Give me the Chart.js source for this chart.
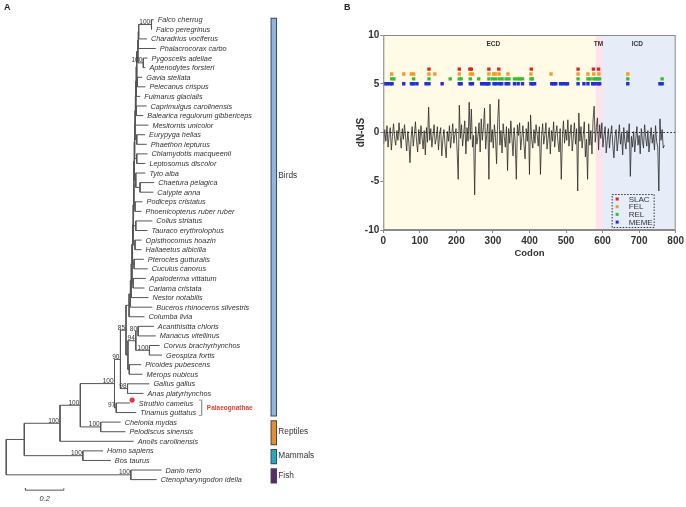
<!DOCTYPE html>
<html>
<head>
<meta charset="utf-8">
<script src="https://cdn.jsdelivr.net/npm/chart.js@4.4.0/dist/chart.umd.min.js"></script>
<style>
  body { margin: 0; background: #fff; }
  #treeChart { position: absolute; left: 0; top: 0; }
  #dndsChart { position: absolute; left: 330px; top: 0; }
</style>
</head>
<body>
<canvas id="treeChart" width="330" height="507"></canvas>
<canvas id="dndsChart" width="356" height="270"></canvas>
<script>
// ---------- Panel A: tree ----------
const tipNames = [
  'Falco cherrug', 'Falco peregrinus', 'Charadrius vociferus', 'Phalacrocorax carbo',
  'Pygoscelis adeliae', 'Aptenodytes forsteri', 'Gavia stellata', 'Pelecanus crispus',
  'Fulmarus glacialis', 'Caprimulgus carolinensis', 'Balearica regulorum gibbericeps',
  'Mesitornis unicolor', 'Eurypyga helias', 'Phaethon lepturus', 'Chlamydotis macqueenii',
  'Leptosomus discolor', 'Tyto alba', 'Chaetura pelagica', 'Calypte anna',
  'Podiceps cristatus', 'Phoenicopterus ruber ruber', 'Colius striatus',
  'Tauraco erythrolophus', 'Opisthocomus hoazin', 'Haliaeetus albicilla',
  'Pterocles gutturalis', 'Cuculus canorus', 'Apaloderma vittatum', 'Cariama cristata',
  'Nestor notabilis', 'Buceros rhinoceros silvestris', 'Columba livia',
  'Acanthisitta chloris', 'Manacus vitellinus', 'Corvus brachyrhynchos', 'Geospiza fortis',
  'Picoides pubescens', 'Merops nubicus', 'Gallus gallus', 'Anas platyrhynchos',
  'Struthio camelus', 'Tinamus guttatus', 'Chelonia mydas', 'Pelodiscus sinensis',
  'Anolis carolinensis', 'Homo sapiens', 'Bos taurus', 'Danio rerio',
  'Ctenopharyngodon idella'
];
// distance from root of each tip
const tipX = [
  0.769, 0.759, 0.733, 0.779, 0.736, 0.725, 0.709, 0.725, 0.698, 0.731,
  0.714, 0.741, 0.723, 0.732, 0.736, 0.725, 0.725, 0.771, 0.766, 0.710,
  0.705, 0.761, 0.736, 0.705, 0.705, 0.717, 0.737, 0.727, 0.720, 0.741,
  0.761, 0.720, 0.769, 0.779, 0.799, 0.812, 0.703, 0.710, 0.746, 0.715,
  0.644, 0.677, 0.596, 0.621, 0.664, 0.504, 0.545, 0.809, 0.784
];
// internal nodes: distance from root, children (number = tip, 'nK' = node K), bootstrap
const nodeX = [
  0.000, 0.094, 0.649, 0.280, 0.399, 0.386, 0.492, 0.564, 0.595, 0.573,
  0.632, 0.624, 0.634, 0.675, 0.687, 0.746, 0.641, 0.755, 0.714, 0.683,
  0.678, 0.680, 0.680, 0.697, 0.675, 0.671, 0.675, 0.671, 0.666, 0.661,
  0.690, 0.688, 0.686, 0.680, 0.677, 0.675, 0.673, 0.671, 0.669, 0.667,
  0.665, 0.663, 0.661, 0.658, 0.655, 0.651, 0.647, 0.640
];
const nodeKids = [
  ['n1', 'n2'], ['n3', 'n4'], [47, 48], ['n5', 44], [45, 46],
  ['n7', 'n6'], [42, 43], ['n8', 'n9'], ['n11', 'n10'], [40, 41],
  [38, 39], ['n47', 'n12'], ['n13', 'n16'], ['n14', 'n15'], [32, 33],
  [34, 35], [36, 37], [0, 1], [4, 5], [6, 7],
  [9, 10], [12, 13], [14, 15], [17, 18], [16, 'n23'],
  [19, 20], [21, 22], [23, 24], [25, 26], [27, 28],
  ['n17', 2], ['n30', 3], ['n31', 'n18'], ['n32', 'n19'], ['n33', 8],
  ['n34', 'n20'], ['n35', 11], ['n36', 'n21'], ['n37', 'n22'], ['n38', 'n24'],
  ['n39', 'n25'], ['n40', 'n26'], ['n41', 'n27'], ['n42', 'n28'], ['n43', 'n29'],
  ['n44', 29], ['n45', 30], ['n46', 31]
];
const nodeSupport = [
  '', '', '100', '100', '100', '100', '100', '100', '90', '97',
  '98', '85', '', '94', '80', '100', '', '100', '100'
];
const highlightTip = 40;
const groupNames = ['Birds', 'Reptiles', 'Mammals', 'Fish'];
const groupFirstTip = [0, 42, 45, 47];
const groupLastTip = [41, 44, 46, 48];
const cladeName = 'Palaeognathae';
const cladeTips = [40, 41];
const scaleBarLength = 0.2;

// ---------- Panel B: dN-dS ----------
const codonStart = 1, codonStep = 3;
const dnds = [
  -1.2, 0.3, -0.9, 0.7, -1.5, -0.2, 0.5, -1.8, -0.4, 0.9,
  -0.6, -1.3, 0.2, -0.8, 1.0, -0.3, -1.6, 0.4, -0.7, 0.8,
  -0.5, -1.9, 0.1, -1.1, -3.1, -0.6, 0.6, -1.4, -0.2, 1.1,
  -0.9, -2.0, 0.3, -1.2, 0.7, -0.5, -1.7, 0.2, -2.3, 0.5,
  -1.0, 2.6, -0.8, 0.4, -1.5, -0.3, 0.8, -1.2, -0.6, 0.6,
  -1.8, -0.2, 0.5, -2.4, -0.7, 0.3, -1.3, -2.6, 0.1, -0.9,
  0.7, -1.6, -0.4, 0.9, -1.1, -0.2, 0.4, -1.9, -4.8, 2.8,
  -0.6, 0.8, -1.4, -0.1, 1.2, -2.2, 0.5, -0.9, 3.1, -0.7,
  2.4, -1.5, -0.3, -6.4, 0.6, -1.2, -0.4, 1.0, -2.0, 1.4,
  -0.8, 0.5, 2.5, -1.7, -0.2, 0.9, -4.8, 2.9, -1.0, 0.3,
  -1.6, 0.8, -0.5, -3.2, 1.1, 3.4, -1.3, 0.2, -2.1, 0.9,
  -0.4, -1.5, 0.6, -3.9, 0.4, -1.1, 1.2, -0.6, -2.4, 0.5,
  -1.0, -4.8, 0.8, -0.3, 1.0, -1.8, -0.5, 0.7, -1.3, -2.7,
  0.4, -0.9, 1.1, -4.3, 1.8, -0.7, -1.6, 0.3, -1.1, 0.8,
  -0.2, -1.4, 0.6, -4.3, -0.5, 0.9, -1.2, -0.3, 1.0, -1.7,
  -0.6, 0.5, -2.2, 0.2, -0.9, 1.1, -1.5, -0.1, 0.7, -1.0,
  -2.0, 0.4, -4.8, -0.6, 1.2, -1.1, 0.3, -0.8, 1.3, -1.4,
  -0.2, 0.8, -1.9, -0.5, 1.0, -1.2, 0.4, -6.0, 2.0, -0.9,
  0.6, -1.6, -0.3, 1.1, -2.5, -0.7, -4.8, 0.9, -1.3, 0.2,
  -2.2, 1.3, 2.7, -1.0, 0.5, 1.5, -1.8, 0.8, -0.6, 1.0,
  -1.5, -0.3, 0.6, -2.1, -0.8, 0.4, -1.6, -0.2, 0.7, -1.3,
  -2.6, -0.5, 0.3, -1.9, -0.7, 0.8, -1.2, -0.1, -2.3, 0.5,
  -0.9, -1.7, 0.2, -1.0, 0.9, -4.5, -0.4, -1.5, 0.1, -2.0,
  -0.6, 0.6, -1.3, -0.3, -2.2, 0.4, -0.8, -1.6, 0.8, -0.5,
  -1.4, 0.2, -2.0, -0.7, 0.5, -1.1, -0.2, -1.8, 0.7, -0.9,
  -1.5, -6.0, 1.4, -0.8, 0.3, -1.6, -1.3
];
const slacSites = [125, 208, 237, 241, 289, 316, 405, 533, 575, 589];
const felSites = [23, 56, 77, 83, 125, 141, 208, 238, 244, 289, 302, 307, 317, 341, 404, 459, 533, 560, 576, 590, 669];
const relSites = [23, 29, 83, 125, 183, 208, 213, 238, 261, 289, 299, 307, 317, 325, 336, 344, 359, 367, 373, 381, 404, 408, 533, 560, 566, 576, 581, 587, 592, 669, 763];
const memeSites = [5, 11, 19, 24, 56, 77, 83, 92, 117, 125, 161, 208, 213, 238, 244, 269, 274, 281, 285, 289, 303, 309, 318, 324, 336, 343, 359, 369, 381, 404, 408, 414, 461, 466, 472, 485, 491, 499, 504, 533, 549, 560, 573, 578, 587, 592, 669, 757, 763];
const methodNames = ['SLAC', 'FEL', 'REL', 'MEME'];
const methodLevels = [6.5, 6, 5.5, 5];
const domainNames = ['ECD', 'TM', 'ICD'];
const domainBounds = [0, 581, 601, 800];
const codonTicks = [0, 100, 200, 300, 400, 500, 600, 700, 800];
const dndsTicks = [-10, -5, 0, 5, 10];

const FONT = '"Liberation Sans", Arial, sans-serif';

// tree layout: node y = middle of its children rows
const nodeCache = {};
function kidPos(k) {
  return typeof k === 'string' ? nodePos(+k.slice(1)) : { x: tipX[k], y: k };
}
function nodePos(n) {
  if (nodeCache[n]) return nodeCache[n];
  const a = kidPos(nodeKids[n][0]), b = kidPos(nodeKids[n][1]);
  return (nodeCache[n] = { x: nodeX[n], y: (a.y + b.y) / 2 });
}

const treeSets = nodeKids.map((kids, n) => {
  const a = kidPos(kids[0]), b = kidPos(kids[1]);
  return {
    data: [{ x: a.x, y: a.y }, { x: nodeX[n], y: a.y }, { x: nodeX[n], y: b.y }, { x: b.x, y: b.y }],
    showLine: true, borderColor: '#555', borderWidth: 1, pointRadius: 0
  };
});
const groupColors = ['#8fb5db', '#e58e2e', '#27a8c2', '#5b2b6c'];
const barX = 1.394;
// coloured fill first (drawn on top), dark outline after it
groupNames.forEach((g, i) => {
  treeSets.push({
    data: [{ x: barX, y: groupFirstTip[i] - 0.1 }, { x: barX, y: groupLastTip[i] + 0.3 }],
    showLine: true, borderColor: groupColors[i], borderWidth: 4.5, borderCapStyle: 'butt', pointRadius: 0
  });
});
groupNames.forEach((g, i) => {
  treeSets.push({
    data: [{ x: barX, y: groupFirstTip[i] - 0.2 }, { x: barX, y: groupLastTip[i] + 0.4 }],
    showLine: true, borderColor: '#3b4a5a', borderWidth: 6.5, borderCapStyle: 'butt', pointRadius: 0
  });
});
// palaeognath bracket
treeSets.push({
  data: [{ x: 1.003, y: cladeTips[0] - 0.3 }, { x: 1.018, y: cladeTips[0] - 0.3 },
         { x: 1.018, y: cladeTips[1] + 0.3 }, { x: 1.003, y: cladeTips[1] + 0.3 }],
  showLine: true, borderColor: '#999', borderWidth: 1, pointRadius: 0
});
// scale bar
const sbY = 49.1, sbX0 = 0.1;
treeSets.push({
  data: [{ x: sbX0, y: sbY - 0.2 }, { x: sbX0, y: sbY }, { x: sbX0 + scaleBarLength, y: sbY }, { x: sbX0 + scaleBarLength, y: sbY - 0.2 }],
  showLine: true, borderColor: '#555', borderWidth: 1, pointRadius: 0
});
// red marker
treeSets.push({
  data: [{ x: tipX[highlightTip] + 0.012, y: highlightTip - 0.3 }],
  pointRadius: 2.6, backgroundColor: '#e53935', borderWidth: 0
});

const treeText = {
  id: 'treeText',
  afterDatasetsDraw(chart) {
    const { ctx, scales: { x, y } } = chart;
    ctx.save();
    ctx.fillStyle = '#222';
    ctx.font = 'bold 9px ' + FONT;
    ctx.textBaseline = 'middle';
    ctx.fillText('A', 4, 8);
    ctx.fillStyle = '#333';
    ctx.font = 'italic 7.3px ' + FONT;
    tipNames.forEach((name, i) => {
      const off = i === highlightTip ? 9 : 4;
      ctx.fillText(name, x.getPixelForValue(tipX[i]) + off, y.getPixelForValue(i) + 0.5);
    });
    ctx.font = '6.5px ' + FONT;
    ctx.textAlign = 'right';
    ctx.textBaseline = 'bottom';
    nodeSupport.forEach((s, n) => {
      if (!s) return;
      const p = nodePos(n);
      ctx.fillText(s, x.getPixelForValue(p.x) - 1, y.getPixelForValue(p.y) + 1);
    });
    ctx.textAlign = 'left';
    ctx.textBaseline = 'middle';
    ctx.font = '8.3px ' + FONT;
    const labelRows = [16.3, null, null, null];
    groupNames.forEach((g, i) => {
      const row = labelRows[i] !== null ? labelRows[i] : (groupFirstTip[i] + groupLastTip[i]) / 2 + 0.05;
      ctx.fillText(g, x.getPixelForValue(barX) + 4.5, y.getPixelForValue(row));
    });
    ctx.fillStyle = '#d9443a';
    ctx.font = 'bold 6.5px ' + FONT;
    ctx.fillText(cladeName, x.getPixelForValue(1.045), y.getPixelForValue((cladeTips[0] + cladeTips[1]) / 2));
    ctx.fillStyle = '#333';
    ctx.font = 'italic 7.3px ' + FONT;
    ctx.textAlign = 'center';
    ctx.fillText(String(scaleBarLength), x.getPixelForValue(sbX0 + scaleBarLength / 2), y.getPixelForValue(sbY + 0.9));
    ctx.restore();
  }
};

new Chart(document.getElementById('treeChart'), {
  type: 'scatter',
  data: { datasets: treeSets },
  options: {
    responsive: false, animation: false, devicePixelRatio: 1,
    layout: { padding: 0 },
    plugins: { legend: { display: false }, tooltip: { enabled: false } },
    scales: {
      x: { type: 'linear', min: -0.0117, max: 1.666, display: false },
      y: { type: 'linear', min: -1.644, max: 50.44, reverse: true, display: false }
    }
  },
  plugins: [treeText]
});

// ---------- Panel B chart ----------
const methodColors = ['#e2231a', '#f29a2e', '#2fc22f', '#1f30d6'];
const methodSites = [slacSites, felSites, relSites, memeSites];
const domainColors = ['#fffbe6', '#fde3ec', '#e6edf8'];

const dndsSets = [{
  data: dnds.map((v, i) => ({ x: codonStart + i * codonStep, y: v })),
  showLine: true, borderColor: '#2a2a2a', borderWidth: 0.8, pointRadius: 0
}];
methodNames.forEach((m, i) => {
  dndsSets.push({
    label: m,
    data: methodSites[i].map(c => ({ x: c, y: methodLevels[i] })),
    pointStyle: 'rect', pointRadius: 2.4, backgroundColor: methodColors[i], borderWidth: 0
  });
});

const dndsDecor = {
  id: 'dndsDecor',
  beforeDatasetsDraw(chart) {
    const { ctx, chartArea: a, scales: { x, y } } = chart;
    ctx.save();
    domainNames.forEach((d, i) => {
      const x0 = x.getPixelForValue(domainBounds[i]), x1 = x.getPixelForValue(domainBounds[i + 1]);
      ctx.fillStyle = domainColors[i];
      ctx.fillRect(x0, a.top, x1 - x0, a.bottom - a.top);
    });
    ctx.fillStyle = '#333';
    ctx.font = 'bold 6.5px ' + FONT;
    ctx.textAlign = 'center';
    ctx.textBaseline = 'middle';
    const labelAt = [301, 589, 695];
    domainNames.forEach((d, i) => ctx.fillText(d, x.getPixelForValue(labelAt[i]), y.getPixelForValue(9.1)));
    ctx.restore();
  },
  afterDatasetsDraw(chart) {
    const { ctx, chartArea: a, scales: { y } } = chart;
    ctx.save();
    const y0 = y.getPixelForValue(0);
    ctx.strokeStyle = '#111';
    ctx.lineWidth = 1;
    ctx.setLineDash([1.5, 2]);
    ctx.beginPath();
    ctx.moveTo(a.left, y0);
    ctx.lineTo(a.right, y0);
    ctx.stroke();
    ctx.setLineDash([]);
    ctx.strokeStyle = '#8a8a8a';
    ctx.strokeRect(a.left + 0.5, a.top + 0.5, a.right - a.left - 1, a.bottom - a.top - 1);
    // legend box
    const lx = a.right - 64, ly = a.bottom - 36, lw = 42, lh = 33;
    ctx.strokeStyle = '#333';
    ctx.setLineDash([1.5, 1.5]);
    ctx.strokeRect(lx + 0.5, ly + 0.5, lw, lh);
    ctx.setLineDash([]);
    ctx.font = '8px ' + FONT;
    ctx.textBaseline = 'middle';
    methodNames.forEach((m, i) => {
      const ry = ly + 5 + i * 7.7;
      ctx.fillStyle = methodColors[i];
      ctx.fillRect(lx + 4, ry - 1.5, 3, 3);
      ctx.fillStyle = '#333';
      ctx.fillText(m, lx + 17, ry + 0.5);
    });
    ctx.fillStyle = '#222';
    ctx.font = 'bold 9px ' + FONT;
    ctx.fillText('B', 14, 8);
    ctx.restore();
  }
};

new Chart(document.getElementById('dndsChart'), {
  type: 'scatter',
  data: { datasets: dndsSets },
  options: {
    responsive: false, animation: false, devicePixelRatio: 1,
    layout: { padding: { top: 35, right: 7.7, left: 0, bottom: 0 } },
    plugins: { legend: { display: false }, tooltip: { enabled: false } },
    scales: {
      x: {
        type: 'linear', min: 0, max: 800,
        afterBuildTicks: s => { s.ticks = codonTicks.map(v => ({ value: v })); },
        afterFit: s => { s.height = 40; },
        grid: { drawOnChartArea: false, tickLength: 3, color: '#8a8a8a' },
        border: { color: '#8a8a8a' },
        ticks: { color: '#333', padding: 2, maxRotation: 0, font: { family: FONT, size: 10, weight: 'bold' } },
        title: { display: true, text: 'Codon', color: '#333', padding: { top: 0, bottom: 11 }, font: { family: FONT, size: 9.5, weight: 'bold' } }
      },
      y: {
        type: 'linear', min: -10, max: 10,
        afterBuildTicks: s => { s.ticks = dndsTicks.map(v => ({ value: v })); },
        afterFit: s => { s.width = 53.3; },
        grid: { drawOnChartArea: false, tickLength: 3, color: '#8a8a8a' },
        border: { color: '#8a8a8a' },
        ticks: { color: '#333', padding: 1, font: { family: FONT, size: 10, weight: 'bold' } },
        title: { display: true, text: 'dN-dS', color: '#333', padding: { top: 25, bottom: 0 }, font: { family: FONT, size: 10, weight: 'bold' } }
      }
    }
  },
  plugins: [dndsDecor]
});
</script>
</body>
</html>
